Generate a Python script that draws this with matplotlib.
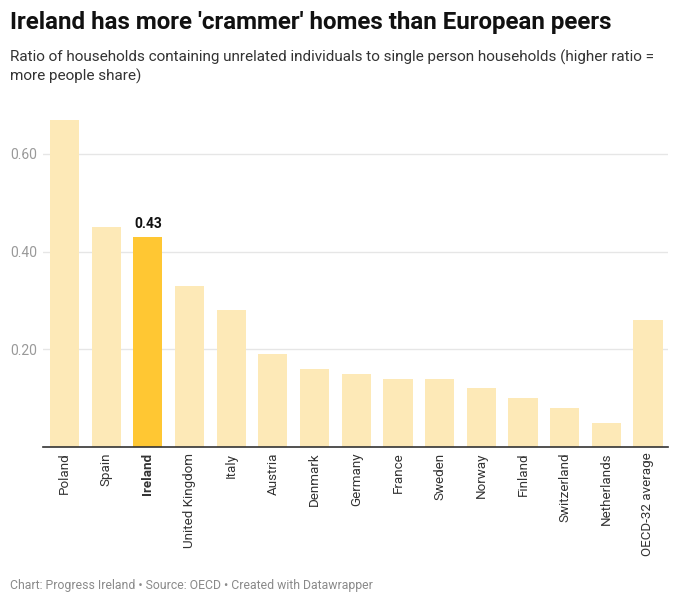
import matplotlib
matplotlib.use("Agg")
import matplotlib.pyplot as plt

countries = ["Poland", "Spain", "Ireland", "United Kingdom", "Italy", "Austria", "Denmark",
             "Germany", "France", "Sweden", "Norway", "Finland", "Switzerland", "Netherlands",
             "OECD-32 average"]
values = [0.67, 0.45, 0.43, 0.33, 0.28, 0.19, 0.16, 0.15, 0.14, 0.14, 0.12, 0.10, 0.08, 0.05, 0.26]
highlight = "Ireland"
yticks = [0.20, 0.40, 0.60]
ytick_labels = ["0.20", "0.40", "0.60"]

plt.rcParams['font.family'] = ['Roboto', 'DejaVu Sans']

fig = plt.figure(figsize=(6.8, 6.05), dpi=100)
ax = fig.add_axes([43/680, 1-447/605, (668-43)/680, (447-105)/605])

pale = "#fde9b7"
strong = "#ffc733"
colors = [strong if c == highlight else pale for c in countries]
x = list(range(len(countries)))
bars = ax.bar(x, values, width=0.70, color=colors, zorder=2)

ax.set_xlim(-0.516, len(countries) - 1 + 0.48)
ax.set_ylim(0, 0.70)
ax.set_yticks(yticks)
ax.set_yticklabels(ytick_labels, color="#999999", fontsize=10)
ax.yaxis.grid(True, color="#e6e6e6", linewidth=1, zorder=0)
ax.tick_params(axis="y", length=0, pad=0)
for lbl in ax.get_yticklabels():
    lbl.set_horizontalalignment("left")
    lbl.set_x(-33/625)

ax.set_xticks(x)
ax.set_xticklabels(countries, rotation=90, fontsize=9.6, color="#333333")
ax.tick_params(axis="x", length=0, pad=4)
for lbl, c in zip(ax.get_xticklabels(), countries):
    if c == highlight:
        lbl.set_fontweight("bold")

for s in ["top", "right", "left"]:
    ax.spines[s].set_visible(False)
ax.spines["bottom"].set_color("#333333")
ax.spines["bottom"].set_linewidth(1.2)
ax.spines["bottom"].set_zorder(3)

i = countries.index(highlight)
ax.annotate(f"{values[i]:.2f}", (x[i], values[i]), xytext=(0, 4), textcoords="offset points",
            ha="center", va="bottom", fontsize=10, fontweight="bold", color="#111111")

fig.text(10/680, 1-22/605, "Ireland has more 'crammer' homes than European peers",
         fontsize=17.4, fontweight="bold", color="#111111", va="center", ha="left")
fig.text(10/680, 1-67/605,
         "Ratio of households containing unrelated individuals to single person households (higher ratio =\nmore people share)",
         fontsize=11.0, color="#333333", va="center", ha="left", linespacing=1.3)
fig.text(10/680, 1-586/605, "Chart: Progress Ireland • Source: OECD • Created with Datawrapper",
         fontsize=8.8, color="#8a8a8a", va="center", ha="left")

fig.savefig("out.png", dpi=100, facecolor="white")
